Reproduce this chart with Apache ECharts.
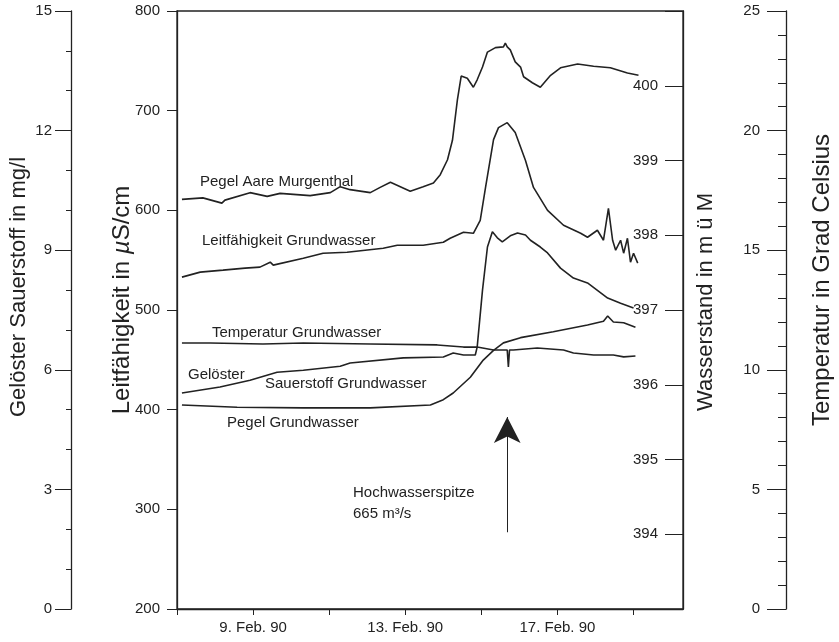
<!DOCTYPE html>
<html>
<head>
<meta charset="utf-8">
<script src="https://cdn.jsdelivr.net/npm/echarts@6/dist/echarts.min.js"></script>
<style>
  html, body { margin: 0; padding: 0; background: #fff; }
  #chart { width: 839px; height: 642px; }
</style>
</head>
<body>
<div id="chart"></div>
<script>
// days counted from 7. Feb. 90, 00:00
const dayTicks = [0, 2, 4, 6, 8, 10, 12];
const dayLabels = { 2: "9. Feb. 90", 6: "13. Feb. 90", 10: "17. Feb. 90" };

// Pegel Aare Murgenthal, m ü M
const aareLevel = [
  [0.13, 398.48], [0.68, 398.50], [1.18, 398.43], [1.26, 398.47], [1.92, 398.57],
  [2.37, 398.52], [2.71, 398.56], [3.5, 398.53], [4.03, 398.57], [4.29, 398.65],
  [4.55, 398.61], [5.08, 398.57], [5.34, 398.64], [5.61, 398.71], [5.87, 398.65],
  [6.13, 398.59], [6.47, 398.65], [6.74, 398.70], [6.92, 398.81], [7.11, 399.01],
  [7.24, 399.27], [7.37, 399.81], [7.47, 400.13], [7.63, 400.10], [7.79, 399.98],
  [7.89, 400.08], [8.03, 400.25], [8.16, 400.45], [8.37, 400.51], [8.58, 400.52],
  [8.63, 400.57], [8.68, 400.52], [8.76, 400.48], [8.89, 400.32], [9.03, 400.25],
  [9.11, 400.12], [9.34, 400.04], [9.55, 399.98], [9.82, 400.14], [10.08, 400.24],
  [10.53, 400.29], [10.95, 400.26], [11.39, 400.24], [11.84, 400.17], [12.13, 400.14]
];

// Leitfähigkeit Grundwasser, µS/cm
const conductivity = [
  [0.13, 533], [0.61, 538], [1.21, 540], [1.79, 542], [2.18, 543], [2.45, 548],
  [2.53, 545], [3.32, 552], [3.84, 557], [4.47, 558], [5.42, 562], [5.79, 565],
  [6.47, 565], [7.0, 568], [7.18, 572], [7.53, 578], [7.79, 577], [7.97, 590],
  [8.11, 623], [8.32, 671], [8.45, 683], [8.68, 688], [8.89, 678], [9.16, 650],
  [9.37, 623], [9.74, 600], [10.16, 585], [10.61, 577], [10.79, 573], [11.05, 580],
  [11.21, 570], [11.34, 602], [11.45, 570], [11.53, 560], [11.66, 570], [11.74, 557],
  [11.84, 572], [11.92, 548], [12.0, 557], [12.11, 547]
];

// Temperatur Grundwasser, °C
const temperature = [
  [0.13, 11.12], [0.87, 11.12], [2.26, 11.08], [3.32, 11.12], [5.08, 11.08],
  [6.84, 11.04], [7.53, 10.95], [7.89, 10.95], [8.32, 10.83], [8.68, 10.83],
  [8.71, 10.12], [8.74, 10.83], [8.84, 10.83], [9.47, 10.91], [10.16, 10.83],
  [10.42, 10.70], [10.95, 10.62], [11.47, 10.62], [11.74, 10.54], [12.05, 10.58]
];

// Gelöster Sauerstoff Grundwasser, mg/l
const oxygen = [
  [0.13, 5.42], [1.13, 5.57], [1.92, 5.74], [2.63, 5.94], [3.32, 5.99], [4.29, 6.09],
  [4.55, 6.17], [5.95, 6.30], [7.0, 6.32], [7.26, 6.42], [7.53, 6.37], [7.84, 6.37],
  [7.89, 6.57], [8.03, 8.0], [8.16, 9.08], [8.29, 9.46], [8.42, 9.31], [8.55, 9.21],
  [8.76, 9.36], [8.95, 9.43], [9.16, 9.38], [9.29, 9.25], [9.55, 9.08], [9.74, 8.93],
  [10.08, 8.55], [10.42, 8.30], [10.79, 8.18], [11.32, 7.80], [11.66, 7.67], [12.0, 7.55]
];

// Pegel Grundwasser, m ü M
const groundLevel = [
  [0.13, 395.73], [1.58, 395.70], [3.32, 395.69], [5.08, 395.69], [6.66, 395.73],
  [7.0, 395.80], [7.26, 395.89], [7.71, 396.10], [8.05, 396.33], [8.32, 396.46],
  [8.58, 396.56], [9.03, 396.63], [9.89, 396.71], [10.79, 396.80], [11.21, 396.85],
  [11.32, 396.92], [11.47, 396.84], [11.74, 396.83], [12.05, 396.77]
];

// Hochwasserspitze arrow (day, µS/cm scale)
const peakDay = 8.68;
const arrowRange = [277, 392.6];

const ink = "#222";
const font = "Liberation Sans, Arial, sans-serif";

function lineSeries(name, data, yAxisIndex) {
  return {
    name,
    type: "line",
    data,
    yAxisIndex,
    showSymbol: false,
    symbol: "none",
    lineStyle: { color: ink, width: 1.6 },
  };
}

function label(text, x, y) {
  return {
    type: "text",
    x,
    y,
    style: {
      text,
      font: "15px " + font,
      fill: ink,
      align: "left",
      verticalAlign: "middle",
    },
  };
}

function axisName(text, x, y, size, rich) {
  const style = {
    text,
    font: size + "px " + font,
    fill: ink,
    align: "center",
    verticalAlign: "middle",
  };
  if (rich) style.rich = rich;
  return { type: "text", x, y, rotation: Math.PI / 2, style };
}

const chart = echarts.init(document.getElementById("chart"));

const tickLabel = { color: ink, fontSize: 15, fontFamily: font };

const conductivitySeries = lineSeries("Leitfähigkeit Grundwasser", conductivity, 0);
conductivitySeries.markLine = {
  silent: true,
  animation: false,
  symbol: ["none", "arrow"],
  symbolSize: [20, 26],
  label: { show: false },
  lineStyle: { color: ink, width: 1, type: "solid" },
  data: [[
    { coord: [peakDay, arrowRange[0]] },
    { coord: [peakDay, arrowRange[1]] },
  ]],
};

chart.setOption({
  animation: false,
  grid: {
    left: 177,
    right: 156,
    top: 11,
    bottom: 33,
    show: true,
    borderColor: ink,
    borderWidth: 1.3,
  },
  xAxis: {
    type: "value",
    min: 0,
    max: 13.3,
    interval: 2,
    splitLine: { show: false },
    axisLine: { lineStyle: { color: ink, width: 1.3 } },
    axisTick: { length: 6, lineStyle: { color: ink }, customValues: dayTicks },
    axisLabel: {
      ...tickLabel,
      margin: 11,
      customValues: [2, 6, 10],
      formatter: (v) => dayLabels[v] || "",
    },
  },
  yAxis: [
    {
      type: "value",
      position: "left",
      min: 200,
      max: 800,
      interval: 100,
      splitLine: { show: false },
      axisLine: { show: true, lineStyle: { color: ink, width: 1.3 } },
      axisTick: { show: true, length: 10, lineStyle: { color: ink } },
      axisLabel: { ...tickLabel, margin: 17 },
    },
    {
      type: "value",
      position: "left",
      offset: 106,
      min: 0,
      max: 15,
      interval: 3,
      splitLine: { show: false },
      axisLine: { show: true, lineStyle: { color: ink, width: 1.3 } },
      axisTick: { show: true, length: 16, lineStyle: { color: ink } },
      minorTick: { show: true, splitNumber: 3, length: 5, lineStyle: { color: ink } },
      axisLabel: { ...tickLabel, margin: 19 },
    },
    {
      type: "value",
      position: "right",
      min: 393,
      max: 401,
      interval: 1,
      splitLine: { show: false },
      axisLine: { show: true, lineStyle: { color: ink, width: 1.3 } },
      axisTick: { show: true, inside: true, length: 18, lineStyle: { color: ink } },
      axisLabel: {
        ...tickLabel,
        inside: true,
        margin: 25,
        formatter: (v) => (v === 393 || v === 401 ? "" : String(v)),
      },
    },
    {
      type: "value",
      position: "right",
      offset: 103,
      min: 0,
      max: 25,
      interval: 5,
      splitLine: { show: false },
      axisLine: { show: true, lineStyle: { color: ink, width: 1.3 } },
      axisTick: { show: true, inside: true, length: 19, lineStyle: { color: ink } },
      minorTick: { show: true, splitNumber: 5, length: 8, lineStyle: { color: ink } },
      axisLabel: { ...tickLabel, inside: true, margin: 26 },
    },
  ],
  graphic: [
    axisName("Gelöster Sauerstoff in mg/l", 19, 287, 22),
    axisName("{t|Leitfähigkeit in }{mu|µ}{t|S/cm}", 122, 300, 24, {
      t: { font: "24px " + font, fill: ink },
      mu: { font: "italic 24px " + font, fill: ink },
    }),
    axisName("Wasserstand in m ü M", 706, 302, 22),
    axisName("Temperatur in Grad Celsius", 822, 280, 24),
    label("Pegel Aare Murgenthal", 200, 182),
    label("Leitfähigkeit Grundwasser", 202, 241),
    label("Temperatur Grundwasser", 212, 333),
    label("Gelöster", 188, 375),
    label("Sauerstoff Grundwasser", 265, 384),
    label("Pegel Grundwasser", 227, 423),
    label("Hochwasserspitze", 353, 493),
    label("665 m³/s", 353, 514),
  ],
  series: [
    lineSeries("Pegel Aare Murgenthal", aareLevel, 2),
    conductivitySeries,
    lineSeries("Temperatur Grundwasser", temperature, 3),
    lineSeries("Gelöster Sauerstoff Grundwasser", oxygen, 1),
    lineSeries("Pegel Grundwasser", groundLevel, 2),
  ],
});
</script>
</body>
</html>
